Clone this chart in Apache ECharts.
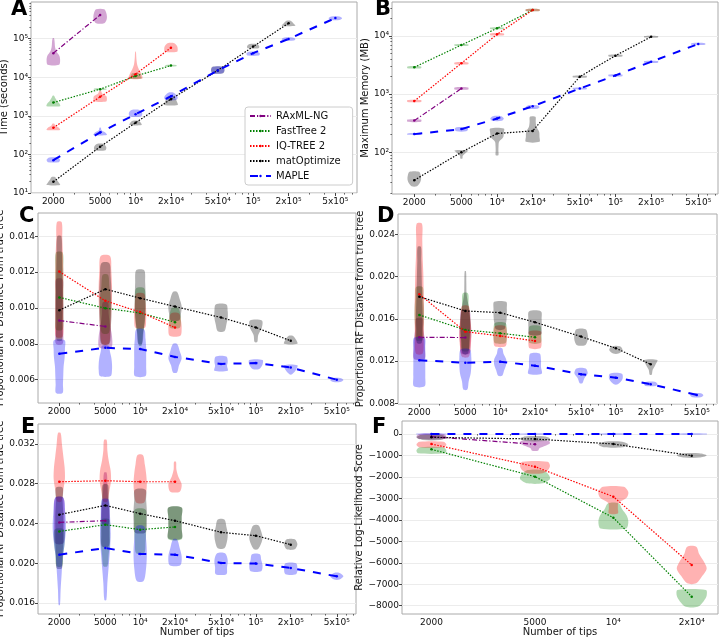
<!DOCTYPE html>
<html><head><meta charset="utf-8">
<script src="https://cdn.jsdelivr.net/npm/echarts@6/dist/echarts.min.js"></script>
<style>html,body{margin:0;padding:0;background:#fff}#c{width:720px;height:637px}</style>
</head><body><div id="c"></div>
<script>
// ---------- categories / ticks ----------
const methods = ['RAxML-NG','FastTree 2','IQ-TREE 2','matOptimize','MAPLE'];
const tips = [2000,5000,10000,20000,50000,100000,200000,500000];
const tipLabels = ['2000','5000','10⁴','2x10⁴','5x10⁴','10⁵','2x10⁵','5x10⁵'];
const fTips = [2000,5000,10000,20000];
const minorTips = [3000,4000,6000,7000,8000,9000,30000,40000,60000,70000,80000,90000,300000,400000,600000,700000];
const timeTicks = [10,100,1000,10000,100000];
const timeTickLabels = ['10¹','10²','10³','10⁴','10⁵'];
const memTicks = [100,1000,10000];
const memTickLabels = ['10²','10³','10⁴'];
const rfCTicks = [0.006,0.008,0.010,0.012,0.014];
const rfCTickLabels = ['0.006','0.008','0.010','0.012','0.014'];
const rfDTicks = [0.008,0.012,0.016,0.020,0.024];
const rfDTickLabels = ['0.008','0.012','0.016','0.020','0.024'];
const rfETicks = [0.016,0.020,0.024,0.028,0.032];
const rfETickLabels = ['0.016','0.020','0.024','0.028','0.032'];
const llTicks = [0,-1000,-2000,-3000,-4000,-5000,-6000,-7000,-8000];
const llTickLabels = ['0','−1000','−2000','−3000','−4000','−5000','−6000','−7000','−8000'];

// ---------- A: time (s) medians and violins [lo, hi, relative widths bottom->top] ----------
const timeRAxML = [42000, 410000];
const timeFastTree = [2200, 4900, 10700, 20000];
const timeIQTree = [490, 3100, 12000, 58000];
const timeMatOpt = [19.5, 158, 660, 2700, 15000, 62000, 250000];
const timeMaple = [71, 370, 1100, 3200, 15000, 42000, 98000, 340000];
const timeRAxMLV = [[21000,102000,[0.85,1.0,0.9,0.45,0.25,0.2,0.1]],[250000,575000,[0.6,0.95,1.0,0.9,0.6]]];
const timeFastTreeV = [[1780,3300,[1.0,0.9,0.55,0.3,0.1]],[4700,5100,[0.9,0.9]],[9300,12600,[0.9,0.7,0.5]],[19300,20700,[0.8,0.8]]];
const timeIQTreeV = [[430,620,[1.0,0.85,0.3,0.15]],[2350,4470,[0.9,1.0,0.9,0.3,0.1]],[9300,45700,[1.0,0.85,0.5,0.25,0.15,0.1,0.05]],[45700,76000,[0.9,1.0,0.9,0.5]]];
const timeMatOptV = [[16,25.7,[1.0,0.8,0.5,0.3]],[129,186,[0.8,0.9,0.5]],[575,740,[0.9,0.8,0.4]],[1900,3240,[1.0,0.9,0.7,0.4]],[12600,18600,[0.8,1.0,0.8]],[56000,72000,[0.8,0.9,0.5]],[214000,288000,[1.0,0.7,0.3]]];
const timeMapleV = [[63,83,[0.8,1.0,0.6]],[316,490,[1.0,0.8,0.2,0.1]],[955,1410,[0.8,1.0,0.6]],[2570,3980,[0.8,1.0,0.8,0.4]],[12600,18600,[0.7,1.0,0.7]],[36300,45700,[0.8,1.0,0.6]],[89000,107000,[0.8,1.0,0.6]],[302000,372000,[0.6,1.0,0.6]]];

// ---------- B: memory (MB) ----------
const memRAxML = [350, 1250];
const memFastTree = [2900, 7000, 13600, 28000];
const memIQTree = [760, 3400, 10700, 28000];
const memMatOpt = [33, 100, 210, 233, 2000, 4600, 9700];
const memMaple = [205, 250, 380, 620, 1250, 2100, 3600, 7300];
const memRAxMLV = [[335,365,[1,1]],[1200,1300,[1,1]]];
const memFastTreeV = [[2800,3000,[1,1]],[6800,7200,[1,1]],[13200,14000,[1,1]],[27000,29000,[1,1]]];
const memIQTreeV = [[730,790,[1,1]],[3280,3520,[1,1]],[10300,11100,[1,1]],[27000,29000,[1,1]]];
const memMatOptV = [[26,46,[0.4,0.85,1.0,0.95,0.7]],[78,107,[0.15,0.2,0.6,1.0]],[89,257,[0.2,0.2,0.22,0.3,0.9,1.0,1.0]],[151,407,[1.0,1.0,0.95,0.55,0.45,0.4]],[1930,2070,[1,1]],[4450,4750,[1,1]],[9400,10000,[1,1]]];
const memMapleV = [[199,211,[1,1]],[229,269,[0.7,1.0,0.7]],[347,417,[0.7,1.0,0.6]],[562,646,[0.7,1.0,0.6]],[1210,1290,[1,1]],[2030,2170,[1,1]],[3480,3720,[1,1]],[7060,7540,[1,1]]];

// ---------- C: RF distance ----------
const rfCRAxML = [0.00930, 0.00897];
const rfCFastTree = [0.01059, 0.00999, 0.00972, 0.00921];
const rfCIQTree = [0.01203, 0.0104, 0.00977, 0.00891];
const rfCMatOpt = [0.00988, 0.01105, 0.01055, 0.01008, 0.00947, 0.00891, 0.00817];
const rfCMaple = [0.00745, 0.00778, 0.00771, 0.00727, 0.00688, 0.00693, 0.00668, 0.0060];
const rfCRAxMLV = [[0.0080,0.0116,[0.5,0.6,0.6,0.6,0.55,0.5]],[0.0078,0.0103,[0.9,1.0,0.7,0.5,0.4]]];
const rfCFastTreeV = [[0.0088,0.0131,[0.5,0.6,0.6,0.6,0.6,0.5]],[0.0086,0.01185,[0.5,0.7,0.8,0.8,0.6,0.4]],[0.0079,0.0111,[0.2,0.4,0.7,0.8,0.8,0.6]],[0.0089,0.0100,[0.7,0.9,0.8,0.5]]];
const rfCIQTreeV = [[0.0084,0.0148,[0.5,0.6,0.6,0.6,0.6,0.55,0.45,0.35]],[0.0080,0.0129,[0.5,0.8,0.9,1.0,1.0,0.9,0.7]],[0.0089,0.0108,[0.7,0.9,0.9,0.8,0.6]],[0.00845,0.0097,[0.8,1.0,0.9,0.6]]];
const rfCMatOptV = [[0.0082,0.0140,[0.4,0.45,0.5,0.5,0.45,0.4,0.3]],[0.0080,0.0125,[0.6,0.8,0.9,0.9,0.9,0.8,0.6]],[0.0080,0.0121,[0.3,0.5,0.7,0.8,0.8,0.75,0.6]],[0.0093,0.0109,[0.6,0.9,1.0,0.7,0.3]],[0.0087,0.0102,[0.5,0.8,1.0,1.0,0.8]],[0.0081,0.0093,[0.2,0.35,0.9,0.9]],[0.0080,0.00845,[1.0,0.8,0.3]]];
const rfCMapleV = [[0.00526,0.0082,[0.5,0.55,0.6,0.65,0.8,0.85,0.8]],[0.0062,0.0079,[0.8,1.0,1.0,0.9,0.7,0.5]],[0.0062,0.0088,[0.8,0.9,0.9,0.9,0.8,0.6]],[0.0064,0.0080,[0.3,0.6,1.0,0.7,0.3]],[0.0065,0.0073,[1.0,0.9,1.0,0.8]],[0.0066,0.0071,[0.5,1.0,1.0]],[0.0063,0.0068,[0.2,0.8,1.0]],[0.00587,0.00609,[0.5,1.0,0.5]]];

// ---------- D: RF distance ----------
const rfDRAxML = [0.01425, 0.01422];
const rfDFastTree = [0.01636, 0.01494, 0.01463, 0.01425];
const rfDIQTree = [0.01832, 0.01478, 0.01437, 0.0139];
const rfDMatOpt = [0.01809, 0.01674, 0.01658, 0.01567, 0.01431, 0.01321, 0.01169];
const rfDMaple = [0.01207, 0.01184, 0.01194, 0.01156, 0.01075, 0.01042, 0.0098, 0.00879];
const rfDRAxMLV = [[0.0122,0.0160,[0.8,0.85,0.8,0.6,0.5]],[0.0127,0.0168,[0.6,0.8,0.9,0.8,0.6]]];
const rfDFastTreeV = [[0.0140,0.0190,[0.5,0.6,0.7,0.7,0.6,0.5]],[0.0130,0.0184,[0.5,0.7,0.8,0.7,0.5,0.4]],[0.0137,0.0156,[0.8,1.0,1.0,0.8]],[0.0137,0.0153,[0.8,1.0,0.9,0.8]]];
const rfDIQTreeV = [[0.0127,0.0250,[0.5,0.65,0.7,0.7,0.65,0.6,0.5,0.45,0.4]],[0.0124,0.0172,[0.5,0.8,0.9,0.85,0.7,0.5]],[0.0134,0.0153,[0.8,1.0,1.0,0.8]],[0.0132,0.0148,[0.8,1.0,0.9,0.9]]];
const rfDMatOptV = [[0.0137,0.0228,[0.35,0.45,0.5,0.45,0.4,0.35,0.3,0.25]],[0.0127,0.0205,[0.4,0.6,0.7,0.7,0.5,0.2,0.15,0.1]],[0.0150,0.0176,[0.6,0.9,1.0,1.0,0.9]],[0.0145,0.0167,[0.9,1.0,1.0,0.9]],[0.0135,0.0150,[0.6,1.0,1.0,0.7]],[0.0127,0.0134,[0.4,1.0,0.6]],[0.0107,0.0121,[0.15,0.3,0.7,1.0]]];
const rfDMapleV = [[0.0096,0.0142,[0.8,0.9,0.9,0.9,0.9,0.8]],[0.0093,0.0131,[0.3,0.5,0.8,0.9,0.9,0.7]],[0.0106,0.0132,[0.3,0.6,0.9,0.9,0.5,0.3]],[0.0108,0.0127,[1.0,0.9,0.9,0.7]],[0.0099,0.0113,[0.2,0.5,1.0,0.7]],[0.0098,0.0108,[0.3,1.0,0.9]],[0.00964,0.01004,[0.8,1.0,0.6]],[0.00857,0.00895,[0.6,1.0,0.6]]];

// ---------- E: RF distance ----------
const rfERAxML = [0.02411, 0.02428];
const rfEFastTree = [0.0232, 0.02388, 0.02338, 0.02365];
const rfEIQTree = [0.0282, 0.0283, 0.0282, 0.0282];
const rfEMatOpt = [0.02489, 0.02582, 0.02499, 0.02428, 0.02311, 0.02277, 0.02187];
const rfEMaple = [0.02086, 0.02153, 0.02093, 0.02086, 0.02003, 0.01996, 0.01952, 0.01868];
const rfERAxMLV = [[0.0220,0.0266,[0.6,0.8,0.8,0.8,0.6]],[0.0240,0.0291,[0.5,0.6,0.4,0.3,0.2]]];
const rfEFastTreeV = [[0.0197,0.0234,[0.4,0.6,0.8,0.7]],[0.0197,0.0244,[0.3,0.5,0.7,0.7,0.6]],[0.0210,0.0254,[0.6,0.8,0.9,0.9,0.8]],[0.0224,0.0256,[1.0,1.0,1.0,1.0]]];
const rfEIQTreeV = [[0.0262,0.0331,[0.3,0.6,0.85,0.8,0.6,0.4,0.2]],[0.0262,0.0324,[0.3,0.6,0.85,0.8,0.5,0.3,0.2]],[0.0261,0.0309,[0.6,0.9,1.0,0.9,0.7,0.4]],[0.0272,0.0302,[0.7,1.0,0.5,0.2,0.15]]];
const rfEMatOptV = [[0.0195,0.0276,[0.4,0.5,0.6,0.6,0.6,0.5,0.5]],[0.0217,0.0279,[0.5,0.6,0.6,0.6,0.5,0.4]],[0.0231,0.0274,[0.8,1.0,1.0,0.9,0.8]],[0.0225,0.0256,[1.0,1.0,1.0,1.0]],[0.0215,0.0244,[0.5,0.9,1.0,0.8,0.5]],[0.0214,0.0238,[0.3,0.8,1.0,0.8,0.4]],[0.0214,0.0224,[0.6,1.0,0.6]]];
const rfEMapleV = [[0.0158,0.0266,[0.1,0.2,0.35,0.5,0.8,1.0,0.9,0.6]],[0.0163,0.0264,[0.15,0.3,0.5,0.7,0.8,0.7,0.5]],[0.0182,0.0237,[0.5,0.9,1.0,0.9,0.6]],[0.0198,0.0224,[0.8,1.0,0.7,0.3]],[0.0189,0.0210,[0.8,0.9,1.0,0.6]],[0.0192,0.0209,[0.8,1.0,0.8,0.6]],[0.0189,0.0200,[0.8,1.0,0.8]],[0.01835,0.01902,[0.4,1.0,0.4]]];

// ---------- F: relative log-likelihood ----------
const llRAxML = [-124, -481];
const llFastTree = [-714, -1988, -3900, -7580];
const llIQTree = [-466, -1522, -2920, -6105];
const llMatOpt = [-155, -233, -466, -1010];
const llMaple = [0, 0, 0, 0];
const llRAxMLV = [[-230,0,[0.8,1.0,0.8]],[-780,-310,[0.2,0.3,0.7,1.0,0.9]]];
const llFastTreeV = [[-900,-620,[0.9,1.0,0.8]],[-2300,-1680,[0.5,1.0,0.9,0.5]],[-4400,-3230,[0.85,1.0,0.9,0.6,0.35]],[-8050,-7270,[0.4,0.8,1.0,0.95]]];
const llIQTreeV = [[-620,-360,[0.8,1.0,0.8]],[-1830,-1290,[0.5,0.9,1.0,0.85]],[-3700,-2460,[0.3,0.3,0.35,0.9,1.0,0.7]],[-6960,-5250,[0.3,0.7,1.0,0.8,0.5,0.3]]];
const llMatOptV = [[-280,-47,[0.6,1.0,0.7]],[-330,-110,[0.6,1.0,0.6]],[-620,-360,[0.6,1.0,0.6]],[-1100,-900,[0.5,1.0,0.5]]];
const llMapleV = [[-25,25,[1,1]],[-25,25,[1,1]],[-25,25,[1,1]],[-25,25,[1,1]]];

// ---------- styles ----------
const lineColors = ['#800080','#008000','#ff0000','#000000','#0000ff'];
const fillColors = ['rgba(128,0,128,0.35)','rgba(0,128,0,0.3)','rgba(255,0,0,0.3)','rgba(0,0,0,0.3)','rgba(0,0,255,0.3)'];
const dashes = [[5,2,1.2,2],[1.5,1.5],[1.5,1.5],[1.5,1.5],[8,8]];
const lineWidths = [1.2,1.2,1.2,1.2,2];
const HALF = 0.0575; // half of the max violin width, in decades of tips

const panels = [
  {letter:'A', lx:11, ly:-1, grid:{left:31, top:2, width:326, height:191}, xr:[3.111,5.883], xt:tips, logY:true, yr:[1,5.948], yv:timeTicks, yl:timeTickLabels, yName:'Time (seconds)', yGap:17,
   sets:[[timeRAxML,timeRAxMLV],[timeFastTree,timeFastTreeV],[timeIQTree,timeIQTreeV],[timeMatOpt,timeMatOptV],[timeMaple,timeMapleV]]},
  {letter:'B', lx:375, ly:-1, grid:{left:392, top:2, width:326, height:192}, xr:[3.113,5.866], xt:tips, logY:true, yr:[1.281,4.586], yv:memTicks, yl:memTickLabels, yName:'Maximum Memory (MB)', yGap:17,
   sets:[[memRAxML,memRAxMLV],[memFastTree,memFastTreeV],[memIQTree,memIQTreeV],[memMatOpt,memMatOptV],[memMaple,memMapleV]]},
  {letter:'C', lx:19, ly:206, grid:{left:38, top:213, width:318, height:190}, xr:[3.117,5.865], xt:tips, logY:false, yr:[0.0047,0.0153], yv:rfCTicks, yl:rfCTickLabels, yName:'Proportional RF Distance from true tree', yGap:26,
   sets:[[rfCRAxML,rfCRAxMLV],[rfCFastTree,rfCFastTreeV],[rfCIQTree,rfCIQTreeV],[rfCMatOpt,rfCMatOptV],[rfCMaple,rfCMapleV]]},
  {letter:'D', lx:377, ly:206, grid:{left:398, top:214, width:319, height:190}, xr:[3.117,5.874], xt:tips, logY:false, yr:[0.00793,0.02592], yv:rfDTicks, yl:rfDTickLabels, yName:'Proportional RF Distance from true tree', yGap:27,
   sets:[[rfDRAxML,rfDRAxMLV],[rfDFastTree,rfDFastTreeV],[rfDIQTree,rfDIQTreeV],[rfDMatOpt,rfDMatOptV],[rfDMaple,rfDMapleV]]},
  {letter:'E', lx:21, ly:417, grid:{left:38, top:424, width:318, height:190}, xr:[3.117,5.865], xt:tips, logY:false, yr:[0.01489,0.03401], yv:rfETicks, yl:rfETickLabels, yName:'Proportional RF Distance from true tree', yGap:26, xName:'Number of tips',
   sets:[[rfERAxML,rfERAxMLV],[rfEFastTree,rfEFastTreeV],[rfEIQTree,rfEIQTreeV],[rfEMatOpt,rfEMatOptV],[rfEMaple,rfEMapleV]]},
  {letter:'F', lx:372, ly:417, grid:{left:402, top:421, width:316, height:193}, xr:[3.188,4.402], xt:fTips, logY:false, yr:[-8388,606], yv:llTicks, yl:llTickLabels, yName:'Relative Log-Likelihood Score', yGap:30, xName:'Number of tips',
   sets:[[llRAxML,llRAxMLV],[llFastTree,llFastTreeV],[llIQTree,llIQTreeV],[llMatOpt,llMatOptV],[llMaple,llMapleV]]}
];

function labelFmt(vals, labels) {
  return function (v) {
    for (let i = 0; i < vals.length; i++) {
      if (Math.abs(vals[i] - v) < 1e-6 * (1 + Math.abs(v))) return labels[i];
    }
    return '';
  };
}

const option = {
  animation: false,
  backgroundColor: '#fff',
  textStyle: {fontFamily: 'DejaVu Sans'},
  grid: [], xAxis: [], yAxis: [], series: [], graphic: [],
  legend: {
    data: methods, left: 245, top: 107, orient: 'vertical',
    itemWidth: 21, itemHeight: 3, itemGap: 5,
    textStyle: {fontSize: 10, color: '#111', fontFamily: 'DejaVu Sans'},
    backgroundColor: '#fff', borderColor: '#cccccc', borderWidth: 1, borderRadius: 3,
    padding: [4, 12, 4, 4], selectedMode: false, z: 20
  }
};

const tickColor = '#444';
panels.forEach((p, g) => {
  option.grid.push(Object.assign({show: true, borderColor: '#aaaaaa', borderWidth: 1, backgroundColor: 'transparent', outerBoundsMode: 'none'}, p.grid));
  const xt = p.xt.map(t => Math.log10(t));
  const ty = v => p.logY ? Math.log10(v) : v;
  const yv = p.yv.map(ty);
  const xMinor = minorTips.map(t => Math.log10(t)).filter(v => v > p.xr[0] && v < p.xr[1]);

  option.xAxis.push({
    type: 'value', gridIndex: g, min: p.xr[0], max: p.xr[1],
    axisLine: {show: false},
    axisTick: {show: true, length: 3, customValues: xt, lineStyle: {color: tickColor, width: 1}},
    axisLabel: {customValues: xt, formatter: labelFmt(xt, p.xt === tips ? tipLabels : tipLabels.slice(0, 4)), fontSize: 9, color: '#111', margin: 4},
    splitLine: {show: false},
    name: p.xName || '', nameLocation: 'middle', nameGap: 12,
    nameTextStyle: {fontSize: 10, color: '#111'}
  });
  option.xAxis.push({
    type: 'value', gridIndex: g, min: p.xr[0], max: p.xr[1], position: 'bottom',
    axisLine: {show: false}, axisLabel: {show: false}, splitLine: {show: false},
    axisTick: {show: true, length: 1.6, customValues: xMinor, lineStyle: {color: tickColor, width: 0.8}}
  });
  option.yAxis.push({
    type: 'value', gridIndex: g, min: p.yr[0], max: p.yr[1],
    axisLine: {show: false},
    axisTick: {show: true, length: 3, customValues: yv, lineStyle: {color: tickColor, width: 1}},
    axisLabel: {customValues: yv, formatter: labelFmt(yv, p.yl), fontSize: 9, color: '#111', margin: 3},
    splitLine: {show: true, lineStyle: {color: '#ececec', width: 1}},
    name: p.yName, nameLocation: 'middle', nameGap: p.yGap,
    nameTextStyle: {fontSize: 10, color: '#111'}
  });
  let yMinor = [];
  if (p.logY) {
    for (let e = 1; e <= 5; e++) for (let k = 2; k <= 9; k++) {
      const v = Math.log10(k * Math.pow(10, e));
      if (v > p.yr[0] && v < p.yr[1]) yMinor.push(v);
    }
  }
  option.yAxis.push({
    type: 'value', gridIndex: g, min: p.yr[0], max: p.yr[1], position: 'left', show: p.logY,
    axisLine: {show: false}, axisLabel: {show: false}, splitLine: {show: false},
    axisTick: {show: p.logY, length: 1.6, customValues: p.logY ? yMinor : [p.yr[0]], lineStyle: {color: tickColor, width: 0.8}}
  });

  // violins
  p.sets.forEach((set, k) => {
    const med = set[0], vio = set[1];
    option.series.push({
      type: 'custom', xAxisIndex: 2 * g, yAxisIndex: 2 * g, silent: true, clip: true, z: 2,
      data: vio.map((v, i) => [xt[i], ty(med[i])]),
      encode: {x: 0, y: 1},
      renderItem: function (params, api) {
        const v = vio[params.dataIndex];
        const x = xt[params.dataIndex];
        const lo = ty(v[0]), hi = ty(v[1]);
        const w = v[2], n = w.length;
        const right = [], left = [];
        for (let i = 0; i < n; i++) {
          const y = lo + (hi - lo) * i / (n - 1);
          right.push(api.coord([x + HALF * w[i], y]));
          left.push(api.coord([x - HALF * w[i], y]));
        }
        const pts = right.concat(left.reverse());
        return {type: 'polygon', shape: {points: pts, smooth: 0.3}, style: {fill: fillColors[k], stroke: null}, silent: true};
      }
    });
  });
  // median lines
  p.sets.forEach((set, k) => {
    option.series.push({
      type: 'line', name: methods[k], xAxisIndex: 2 * g, yAxisIndex: 2 * g, silent: true, z: 5,
      data: set[0].map((v, i) => [xt[i], ty(v)]),
      symbol: 'circle', symbolSize: 2.5, showSymbol: true,
      lineStyle: {color: lineColors[k], width: lineWidths[k], type: dashes[k]},
      itemStyle: {color: lineColors[k]}
    });
  });
  option.graphic.push({
    type: 'text', left: p.lx, top: p.ly, z: 100,
    style: {text: p.letter, fontSize: 21, fontWeight: 'bold', fontFamily: 'DejaVu Sans', fill: '#000'}
  });
});

const chart = echarts.init(document.getElementById('c'), null, {renderer: 'canvas'});
chart.setOption(option);
</script>
</body></html>
